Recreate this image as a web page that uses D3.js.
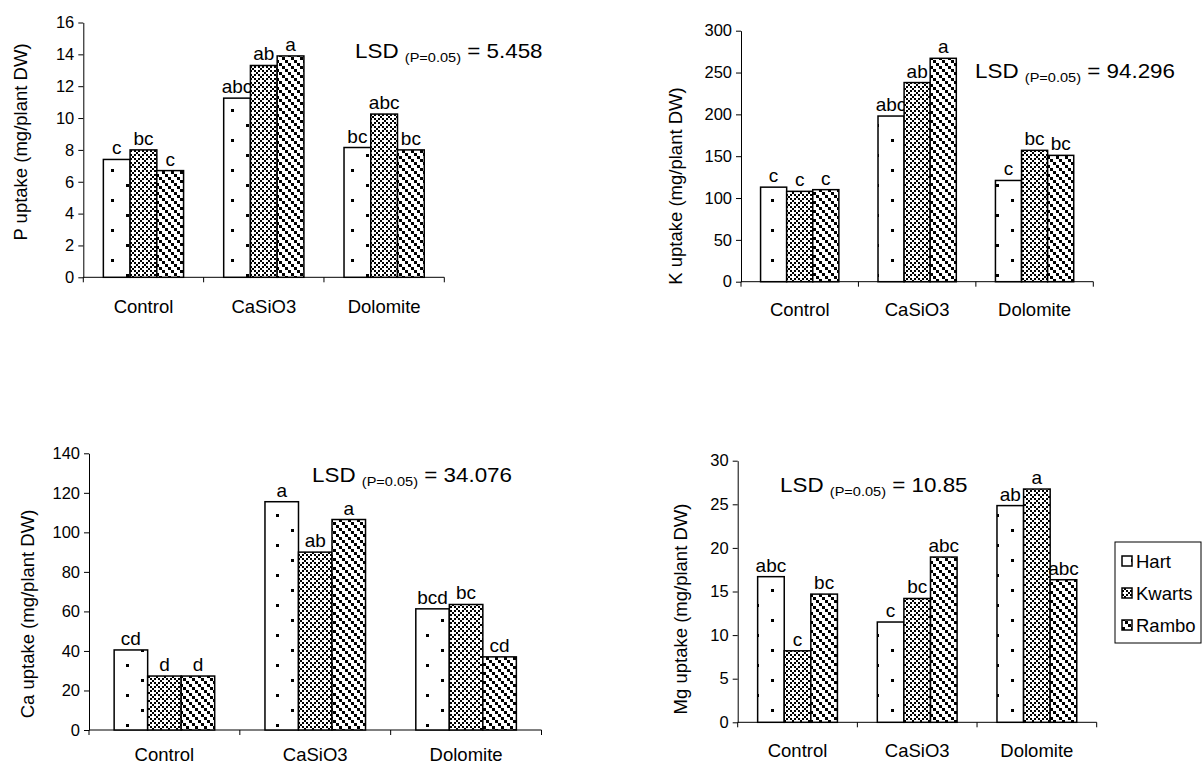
<!DOCTYPE html>
<html>
<head>
<meta charset="utf-8">
<script src="https://cdn.jsdelivr.net/npm/d3@7/dist/d3.min.js"></script>
<style>
    body { margin: 0; background: #fff; }
    svg text { font-family: "Liberation Sans", Arial, sans-serif; fill: #000; white-space: pre; }
</style>
</head>
<body>
<svg id="chart" width="1204" height="767"></svg>
<script>

// ------------------------------------------------------------------
// Data
// ------------------------------------------------------------------
var categories = ["Control", "CaSiO3", "Dolomite"];
var cultivars = ["Hart", "Kwarts", "Rambo"];

// P uptake
var pHart = [7.4, 11.25, 8.15];
var pKwarts = [8.0, 13.3, 10.25];
var pRambo = [6.7, 13.9, 8.0];
var pLetters = [["c", "abc", "bc"], ["bc", "ab", "abc"], ["c", "a", "bc"]];
var pTicks = [0, 2, 4, 6, 8, 10, 12, 14, 16];

// K uptake
var kHart = [113, 198, 121];
var kKwarts = [108, 238, 157];
var kRambo = [110, 267, 151];
var kLetters = [["c", "abc", "c"], ["c", "ab", "bc"], ["c", "a", "bc"]];
var kTicks = [0, 50, 100, 150, 200, 250, 300];

// Ca uptake
var caHart = [40.5, 115.5, 61.3];
var caKwarts = [27.3, 90, 63.5];
var caRambo = [27.3, 106.5, 37];
var caLetters = [["cd", "a", "bcd"], ["d", "ab", "bc"], ["d", "a", "cd"]];
var caTicks = [0, 20, 40, 60, 80, 100, 120, 140];

// Mg uptake
var mgHart = [16.7, 11.5, 24.85];
var mgKwarts = [8.2, 14.2, 26.75];
var mgRambo = [14.7, 18.95, 16.35];
var mgLetters = [["abc", "c", "ab"], ["c", "bc", "a"], ["bc", "abc", "abc"]];
var mgTicks = [0, 5, 10, 15, 20, 25, 30];

// ------------------------------------------------------------------
// Panel layout (positions only)
// ------------------------------------------------------------------
var panels = [
    { title: "P uptake (mg/plant DW)", lsd: "5.458", series: [pHart, pKwarts, pRambo], letters: pLetters, ticks: pTicks,
      x0: 83.3, x1: 444.3, yZero: 277.3, yTop: 22.5, catY: 313, titleX: 27, titleY: 142, lsdX: 355, lsdY: 58 },
    { title: "K uptake (mg/plant DW)", lsd: "94.296", series: [kHart, kKwarts, kRambo], letters: kLetters, ticks: kTicks,
      x0: 741, x1: 1093.3, yZero: 281.7, yTop: 30.7, catY: 316, titleX: 682, titleY: 186, lsdX: 975, lsdY: 78 },
    { title: "Ca uptake (mg/plant DW)", lsd: "34.076", series: [caHart, caKwarts, caRambo], letters: caLetters, ticks: caTicks,
      x0: 89, x1: 541.5, yZero: 730, yTop: 453.3, catY: 761, titleX: 34, titleY: 614, lsdX: 312, lsdY: 482 },
    { title: "Mg uptake (mg/plant DW)", lsd: "10.85", series: [mgHart, mgKwarts, mgRambo], letters: mgLetters, ticks: mgTicks,
      x0: 737.7, x1: 1096.7, yZero: 722.3, yTop: 460.7, catY: 757, titleX: 687, titleY: 609, lsdX: 780, lsdY: 492 }
];

var svg = d3.select("#chart");

InitPatterns();
panels.forEach(RenderPanel);
RenderLegend();

// ------------------------------------------------------------------
// Fill patterns (Excel style black & white)
// ------------------------------------------------------------------
function AddCells(pat, size, cells) {
    cells.forEach(function(c) {
        pat.append("rect")
            .attr("x", c[0] * size).attr("y", c[1] * size)
            .attr("width", size).attr("height", size)
            .attr("fill", "#000");
    });
}

function InitPatterns() {
    var defs = svg.append("defs");

    // Hart - sparse dots
    var pat = defs.append("pattern").attr("id", "pat-Hart")
        .attr("patternUnits", "userSpaceOnUse").attr("width", 30).attr("height", 30);
    pat.append("rect").attr("width", 30).attr("height", 30).attr("fill", "#fff");
    pat.append("rect").attr("x", 6).attr("y", 4).attr("width", 3).attr("height", 3).attr("fill", "#000");
    pat.append("rect").attr("x", 21).attr("y", 19).attr("width", 3).attr("height", 3).attr("fill", "#000");

    // Kwarts - diamond lattice
    pat = defs.append("pattern").attr("id", "pat-Kwarts")
        .attr("patternUnits", "userSpaceOnUse").attr("width", 8).attr("height", 8);
    pat.append("rect").attr("width", 8).attr("height", 8).attr("fill", "#fff");
    AddCells(pat, 2, [[0, 0], [1, 1], [2, 2], [3, 3], [1, 3], [3, 1]]);

    // Rambo - dashed downward diagonal
    pat = defs.append("pattern").attr("id", "pat-Rambo")
        .attr("patternUnits", "userSpaceOnUse").attr("width", 9).attr("height", 9);
    pat.append("rect").attr("width", 9).attr("height", 9).attr("fill", "#fff");
    AddCells(pat, 3, [[0, 0], [1, 1], [2, 2]]);
}

// ------------------------------------------------------------------
// One bar chart
// ------------------------------------------------------------------
function RenderPanel(p) {
    var g = svg.append("g");

    var y = d3.scaleLinear()
        .domain([0, d3.max(p.ticks)])
        .range([p.yZero, p.yTop]);

    var x = d3.scaleBand()
        .domain(categories)
        .range([p.x0, p.x1])
        .padding(0);

    // cluster takes 2/3 of the band (gap width 50%)
    var xs = d3.scaleBand()
        .domain(cultivars)
        .range([x.bandwidth() / 6, x.bandwidth() * 5 / 6])
        .padding(0);

    // y axis
    var yAxis = g.append("g")
        .attr("transform", "translate(" + p.x0 + ",0)")
        .call(d3.axisLeft(y).tickValues(p.ticks).tickSize(5).tickSizeOuter(0).tickPadding(4));
    yAxis.selectAll("text").style("font-size", "16.5px").style("font-family", "'Liberation Sans', Arial, sans-serif");
    yAxis.selectAll("line, path").attr("stroke", "#000");

    // x axis line and category ticks
    g.append("line")
        .attr("x1", p.x0).attr("x2", p.x1)
        .attr("y1", p.yZero).attr("y2", p.yZero)
        .attr("stroke", "#000");
    var edges = categories.map(function(c) { return x(c); }).concat([x(categories[categories.length - 1]) + x.bandwidth()]);
    g.selectAll(".ctick").data(edges).enter().append("line")
        .attr("x1", function(d) { return d; }).attr("x2", function(d) { return d; })
        .attr("y1", p.yZero).attr("y2", p.yZero + 5)
        .attr("stroke", "#000");
    g.selectAll(".cat").data(categories).enter().append("text")
        .attr("x", function(d) { return x(d) + x.bandwidth() / 2; })
        .attr("y", p.catY)
        .attr("text-anchor", "middle")
        .style("font-size", "18.5px")
        .text(function(d) { return d; });

    // bars, series by series so later bars cover earlier labels
    cultivars.forEach(function(cv, si) {
        var vals = p.series[si];
        var sg = g.append("g");
        sg.selectAll("rect").data(vals).enter().append("rect")
            .attr("x", function(d, i) { return x(categories[i]) + xs(cv); })
            .attr("y", function(d) { return y(d); })
            .attr("width", xs.bandwidth())
            .attr("height", function(d) { return p.yZero - y(d); })
            .attr("fill", "url(#pat-" + cv + ")")
            .attr("stroke", "#000")
            .attr("stroke-width", 1.5);
        sg.selectAll("text").data(vals).enter().append("text")
            .attr("x", function(d, i) { return x(categories[i]) + xs(cv) + xs.bandwidth() / 2; })
            .attr("y", function(d) { return y(d) - 5; })
            .attr("text-anchor", "middle")
            .style("font-size", "19px")
            .text(function(d, i) { return p.letters[si][i]; });
    });

    // axis title
    g.append("text")
        .attr("transform", "translate(" + p.titleX + "," + p.titleY + ") rotate(-90)")
        .attr("text-anchor", "middle")
        .style("font-size", "18.5px")
        .text(p.title);

    // LSD note
    var lsd = g.append("text")
        .attr("transform", "translate(" + p.lsdX + "," + p.lsdY + ") scale(1.12,1)")
        .style("font-size", "20px");
    lsd.append("tspan").text("LSD ");
    lsd.append("tspan").attr("dy", 4).style("font-size", "13px").text("(P=0.05)");
    lsd.append("tspan").attr("dy", -4).text(" = " + p.lsd);
}

// ------------------------------------------------------------------
// Legend
// ------------------------------------------------------------------
function RenderLegend() {
    var lg = svg.append("g");
    lg.append("rect")
        .attr("x", 1115).attr("y", 542)
        .attr("width", 86).attr("height", 101)
        .attr("fill", "#fff").attr("stroke", "#000");

    var rowY = d3.scalePoint().domain(cultivars).range([561, 625]);
    cultivars.forEach(function(cv) {
        lg.append("rect")
            .attr("x", 1122).attr("y", rowY(cv) - 5)
            .attr("width", 10).attr("height", 10)
            .attr("fill", "url(#pat-" + cv + ")")
            .attr("stroke", "#000").attr("stroke-width", 1.5);
        lg.append("text")
            .attr("x", 1136).attr("y", rowY(cv) + 6.5)
            .style("font-size", "18.5px")
            .text(cv);
    });
}
</script>
</body>
</html>
